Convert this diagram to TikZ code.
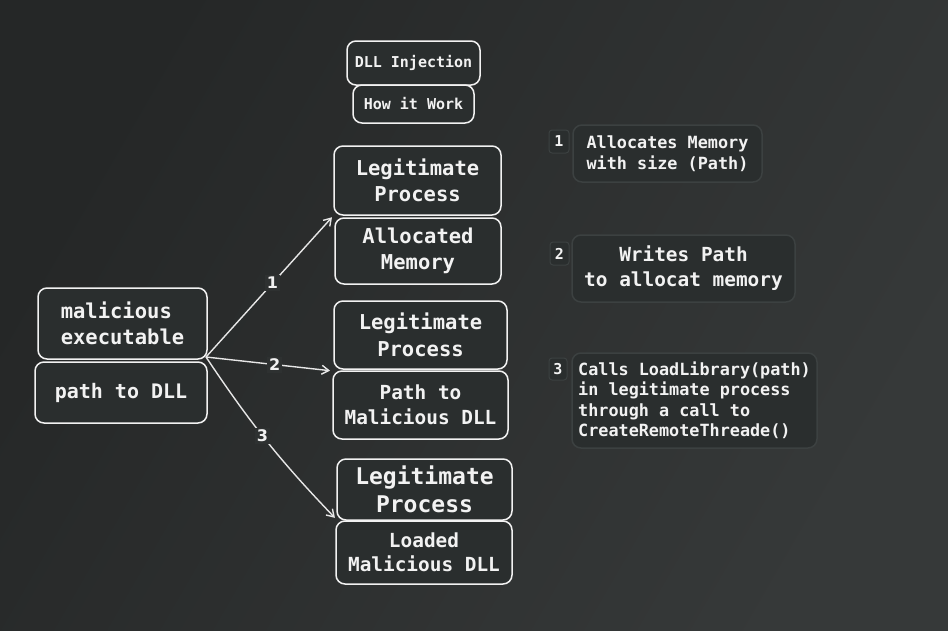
\documentclass[tikz,border=0pt]{standalone}
\usepackage{fontspec}
\setmonofont{DejaVu Sans Mono}
\setsansfont{DejaVu Sans}
\usetikzlibrary{arrows.meta}
\definecolor{bgdark}{HTML}{252727}
\definecolor{bglight}{HTML}{363939}
\definecolor{bgmid}{HTML}{2E3131}
\definecolor{boxfill}{HTML}{2A2E2E}
\definecolor{noteline}{HTML}{3C4141}
\definecolor{inkwhite}{HTML}{F2F2F2}
\begin{document}
\begin{tikzpicture}[x=1pt,y=-1pt,
	box/.style={draw=inkwhite,line width=1.5pt,fill=boxfill,rounded corners=9pt,text=inkwhite,font=\ttfamily\bfseries,align=center,inner sep=2pt,outer sep=0pt},
	note/.style={draw=noteline,line width=1.5pt,fill=boxfill,rounded corners=9pt,text=inkwhite,font=\ttfamily\bfseries,inner sep=2pt,outer sep=0pt},
	badge/.style={draw=noteline,line width=1pt,fill=boxfill,rounded corners=3pt,text=inkwhite,font=\ttfamily\bfseries\fontsize{15}{15}\selectfont,inner sep=0pt,outer sep=0pt},
	link/.style={draw=inkwhite!90!gray,line width=1.4pt,-{Straight Barb[length=7pt,width=9pt]},shorten >=3pt},
	step label/.style={fill=bgmid,text=inkwhite,font=\sffamily\bfseries\fontsize{16}{16}\selectfont,inner sep=2pt}]
	\useasboundingbox (0,0) rectangle (948,630);
	\shade[left color=bgdark,right color=bglight,shading angle=60] (0,0) rectangle (948,630);
	% title
	\node[box,minimum width=133pt,minimum height=44pt,font=\ttfamily\bfseries\fontsize{15}{18}\selectfont] (title) at (413.5,63) {DLL Injection};
	\node[box,minimum width=121pt,minimum height=38pt,font=\ttfamily\bfseries\fontsize{15}{18}\selectfont] (how) at (413.5,104) {How it Work};
	% left side
	\node[box,minimum width=169pt,minimum height=71pt,font=\ttfamily\bfseries\fontsize{20.5}{26}\selectfont,align=left] (mal) at (122.5,323.5) {malicious\\executable};
	\node[box,minimum width=172pt,minimum height=61pt,font=\ttfamily\bfseries\fontsize{20}{26}\selectfont] (dll) at (121,392.5) {path to DLL};
	\coordinate (src) at (206,357);
	% middle column
	\node[box,minimum width=167pt,minimum height=69pt,font=\ttfamily\bfseries\fontsize{20.5}{26}\selectfont] (lp1) at (417.5,180.5) {Legitimate\\Process};
	\node[box,minimum width=166pt,minimum height=66pt,font=\ttfamily\bfseries\fontsize{20.5}{26}\selectfont] (mem) at (418,251) {Allocated\\Memory};
	\node[box,minimum width=173pt,minimum height=68pt,font=\ttfamily\bfseries\fontsize{20.5}{27}\selectfont] (lp2) at (420.5,335) {Legitimate\\Process};
	\node[box,minimum width=175pt,minimum height=68pt,font=\ttfamily\bfseries\fontsize{19.4}{25}\selectfont] (pmd) at (420.5,405) {Path to\\Malicious DLL};
	\node[box,minimum width=175pt,minimum height=61pt,font=\ttfamily\bfseries\fontsize{23}{28}\selectfont] (lp3) at (424.5,489.5) {Legitimate\\Process};
	\node[box,minimum width=176pt,minimum height=63pt,font=\ttfamily\bfseries\fontsize{19.4}{24}\selectfont] (ldl) at (424,552.5) {Loaded\\Malicious DLL};
	% steps
	\draw[link] (src) -- (lp1.south west) node[step label,pos=0.52] {1};
	\draw[link] (src) -- (pmd.north west) node[step label,pos=0.54] {2};
	\draw[link] (src) to[bend right=5] node[step label,pos=0.46] {3} (lp3.south west);
	% notes
	\node[badge,minimum width=20pt,minimum height=23pt] (b1) at (559,141.5) {1};
	\node[note,minimum width=189pt,minimum height=57pt,align=left,font=\ttfamily\bfseries\fontsize{16.8}{21}\selectfont] (n1) at (667.5,153.5) {Allocates Memory\\with size (Path)};
	\node[badge,minimum width=19pt,minimum height=23pt] (b2) at (559.5,253.5) {2};
	\node[note,minimum width=223pt,minimum height=67pt,align=center,font=\ttfamily\bfseries\fontsize{19.4}{25}\selectfont] (n2) at (683.5,268.5) {Writes Path\\to allocat memory};
	\node[badge,minimum width=18pt,minimum height=22pt] (b3) at (558,369) {3};
	\node[note,minimum width=245pt,minimum height=95pt,align=left,font=\ttfamily\bfseries\fontsize{16.8}{20.5}\selectfont] (n3) at (694.5,400.5) {Calls LoadLibrary(path)\\in legitimate process\\through a call to\\CreateRemoteThreade()};
\end{tikzpicture}
\end{document}
